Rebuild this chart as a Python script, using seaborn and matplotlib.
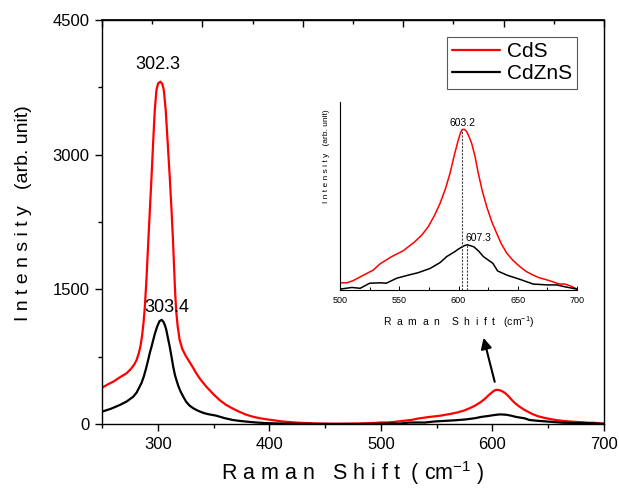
import numpy as np
import pandas as pd
import matplotlib
matplotlib.use("Agg")
import matplotlib.pyplot as plt
from matplotlib.ticker import MultipleLocator, FixedLocator, NullFormatter
import seaborn as sns

# Raman spectra of the two samples
series_names = ["CdS", "CdZnS"]
series_colors = ["#ff0000", "#000000"]

shift_cds = [250, 255, 260, 266, 272, 276, 279, 281, 283, 284.5, 286, 287.3,
             288.4, 289.8, 291.4, 292.9, 294.4, 295.8, 297.3, 298.8, 300.3,
             302.3, 304, 305.4, 307.1, 308.9, 310.7, 312.3, 313.5, 314.6,
             315.5, 316.5, 317.8, 319.6, 322, 325, 328, 331, 334.5, 338,
             343.5, 350, 355.4, 361, 367.2, 373, 379, 385, 392, 400, 412, 425,
             442, 460, 480, 495,
             500, 505.6, 511, 519.7, 528, 533.8, 543.6, 553.4, 563, 569, 574.5,
             580, 584.4, 589, 592.8, 596.5, 599.8, 601.8, 603.2, 605, 606.9,
             609, 611.1, 614, 616.7, 620, 623.8, 628, 632.2, 636, 640.7, 646,
             651.9, 657, 663.1, 668, 674.4, 679, 682.8, 686, 689.9, 695, 700]
intensity_cds = [404, 440, 471, 520, 565, 615, 665, 713, 790, 870, 990, 1140,
                 1307, 1600, 2013, 2384, 2755, 3127, 3498, 3720, 3795,
                 3813, 3790, 3720, 3498, 3127, 2755, 2384, 2080, 1750,
                 1480, 1260, 1090, 936, 835, 760, 700, 640, 565, 500,
                 416, 330, 267, 215, 172, 137, 105, 82, 63, 48, 28, 15,
                 6, 3, 6, 12,
                 17, 17, 22, 35, 47, 62, 79, 93, 114, 130, 150,
                 178, 205, 240, 276, 320, 355, 373, 380, 380, 375,
                 362, 347, 315, 276, 235, 197, 162, 134, 110, 87, 70,
                 55, 44, 35, 29, 24, 20, 16, 14, 14, 9, 2]

shift_cdzns = [250, 258, 266, 272, 278, 281, 283.5, 285.5, 287.5, 289.5, 291.5,
               293, 294.4, 296, 297.5, 299.4, 301.5, 303.4, 305, 306.3, 307.5,
               308.9, 310.7, 312.3, 313.8, 315.3, 316.7, 318.5, 320.5, 323,
               325.6, 328.5, 331.5, 334.5, 337.5, 341, 345, 352.4, 360, 367.2,
               373, 380, 388, 397, 408, 420, 450, 480,
               500, 510, 517, 525, 534, 539, 548, 556, 566, 576, 584.5, 590, 597,
               600, 603, 605, 607.3, 610, 613, 617, 621, 629, 633, 641, 652, 663,
               675, 683, 689, 700]
intensity_cdzns = [137, 170, 212, 250, 304, 350, 410, 460, 530, 620, 720,
                   800, 861, 940, 1010, 1084, 1145, 1160, 1140, 1103, 1055,
                   970, 861, 750, 640, 550, 490, 420, 360, 300,
                   245, 205, 178, 157, 140, 123, 110, 93, 65, 45,
                   35, 26, 17, 10, 6, 3, 0, 0,
                   2, 6, 4, 16, 17, 16, 28, 34, 41, 51, 65, 79, 91,
                   97, 102, 105, 107, 105, 102, 92, 79, 63, 45, 35, 25, 14,
                   12, 12, 8, 2]

main_peaks = [302.3, 303.4]
inset_peaks = [603.2, 607.3]

x_ticks_main = [300, 400, 500, 600, 700]
y_ticks_main = [0, 1500, 3000, 4500]
x_ticks_inset = [500, 550, 600, 650, 700]

sns.set_theme(style="ticks", rc={"axes.edgecolor": "black",
                                 "xtick.color": "black",
                                 "ytick.color": "black",
                                 "text.color": "black",
                                 "axes.labelcolor": "black"})
plt.rcParams["font.family"] = ["Liberation Sans", "DejaVu Sans"]
plt.rcParams["mathtext.fontset"] = "custom"
plt.rcParams["mathtext.rm"] = "Liberation Sans"

spectra = pd.concat([
    pd.DataFrame({"shift": shift_cds, "intensity": intensity_cds,
                  "sample": series_names[0]}),
    pd.DataFrame({"shift": shift_cdzns, "intensity": intensity_cdzns,
                  "sample": series_names[1]}),
], ignore_index=True)
palette = dict(zip(series_names, series_colors))

fig = plt.figure(figsize=(6.19, 4.92), dpi=100)
fig.patch.set_facecolor("white")

# ---- main panel ----
ax = fig.add_axes([0.1648, 0.1382, 0.811, 0.8211])
sns.lineplot(data=spectra, x="shift", y="intensity", hue="sample",
             palette=palette, estimator=None, sort=False, lw=1.6, ax=ax)
ax.set_xlim(250, 700)
ax.set_ylim(0, 4500)
ax.xaxis.set_major_locator(FixedLocator(x_ticks_main))
ax.xaxis.set_minor_locator(MultipleLocator(50))
ax.yaxis.set_major_locator(FixedLocator(y_ticks_main))
ax.yaxis.set_minor_locator(MultipleLocator(750))
ax.tick_params(which="both", direction="out", top=False, right=False,
               width=1.0, labelsize=12, pad=4)
ax.tick_params(which="major", length=5)
ax.tick_params(which="minor", length=3)
for sp in ax.spines.values():
    sp.set_linewidth(1.0)
    sp.set_visible(True)

top = ax.secondary_xaxis("top")
top.xaxis.set_major_locator(FixedLocator([250, 340, 430, 520, 610, 700]))
top.xaxis.set_minor_locator(FixedLocator([295, 385, 475, 565, 655]))
top.xaxis.set_major_formatter(NullFormatter())
top.tick_params(which="both", direction="in", width=1.0)
top.tick_params(which="major", length=5)
top.tick_params(which="minor", length=3)

ax.set_xlabel("R a m a n   S h i f t  ( cm$\\mathregular{^{-1}}$ )",
              fontsize=15.5, va="center")
ax.xaxis.set_label_coords(0.5, -0.121)
ax.set_ylabel("I n t e n s i t y   (arb. unit)", fontsize=14, va="center")
ax.yaxis.set_label_coords(-0.157, 0.521)

cds_top = np.interp(main_peaks[0], shift_cds, intensity_cds)
cdzns_top = np.interp(main_peaks[1], shift_cdzns, intensity_cdzns)
ax.text(main_peaks[0] - 2, cds_top + 140, f"{main_peaks[0]}", fontsize=13,
        ha="center", va="baseline")
ax.text(main_peaks[1] + 4.3, cdzns_top + 90, f"{main_peaks[1]}", fontsize=13,
        ha="center", va="baseline")

ax.annotate("", xy=(592, 960), xytext=(602, 470),
            arrowprops=dict(arrowstyle="-|>", color="black", lw=1.5,
                            mutation_scale=16, shrinkA=0, shrinkB=0))

sns.move_legend(ax, "upper right", bbox_to_anchor=(0.946, 0.958),
                title=None, frameon=True, fancybox=False, fontsize=15,
                handlelength=2.3, handletextpad=0.3, borderpad=0.25,
                labelspacing=0.15, borderaxespad=0, edgecolor="0.35",
                framealpha=1)
leg = ax.get_legend()
leg.get_frame().set_linewidth(0.8)
for line in leg.get_lines():
    line.set_linewidth(1.6)

# ---- inset: zoom on the second-order band ----
ax_in = fig.add_axes([0.5493, 0.4106, 0.3829, 0.3821])
ax_in.set_facecolor("white")
sns.lineplot(data=spectra, x="shift", y="intensity", hue="sample",
             palette=palette, estimator=None, sort=False, lw=1.1,
             legend=False, ax=ax_in)
ax_in.set_xlim(500, 700)
ax_in.set_ylim(0, 445)
ax_in.spines["top"].set_visible(False)
ax_in.spines["right"].set_visible(False)
for sp in ("left", "bottom"):
    ax_in.spines[sp].set_linewidth(0.8)
ax_in.xaxis.set_major_locator(FixedLocator(x_ticks_inset))
ax_in.xaxis.set_minor_locator(MultipleLocator(25))
ax_in.tick_params(axis="x", which="both", direction="in", width=0.7,
                  labelsize=6.5, pad=4)
ax_in.tick_params(axis="x", which="major", length=3)
ax_in.tick_params(axis="x", which="minor", length=2)
ax_in.set_yticks([])
ax_in.set_xlabel("R  a  m  a  n    S  h  i  f  t   (cm$\\mathregular{^{-1}}$)",
                 fontsize=7.5, va="center")
ax_in.xaxis.set_label_coords(0.5, -0.17)
ax_in.set_ylabel("I n t e n s i t y   (arb. unit)", fontsize=6, va="center")
ax_in.yaxis.set_label_coords(-0.055, 0.713)

cds_band = np.interp(inset_peaks[0], shift_cds, intensity_cds)
cdzns_band = np.interp(inset_peaks[1], shift_cdzns, intensity_cdzns)
ax_in.vlines([inset_peaks[0], inset_peaks[1]], 0, [cds_band, cdzns_band],
             colors="0.25", linestyles=(0, (2, 1.2)), lw=0.8)
ax_in.text(inset_peaks[0] + 0.3, cds_band + 8, f"{inset_peaks[0]}",
           fontsize=7.5, ha="center", va="baseline")
ax_in.text(inset_peaks[1] - 1.8, cdzns_band + 9, f"{inset_peaks[1]}",
           fontsize=7.5, ha="left", va="baseline")

fig.savefig("out.png", dpi=100, facecolor="white")
